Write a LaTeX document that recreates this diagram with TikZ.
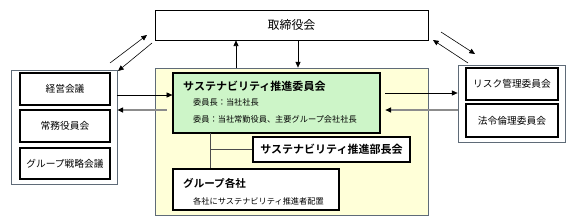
\documentclass[tikz,border=0pt]{standalone}
\usepackage{fontspec}
\setmainfont{Noto Sans CJK JP}[BoldFont={Noto Sans CJK JP Bold}]
\usetikzlibrary{arrows.meta,positioning,calc}
\definecolor{cgframe}{HTML}{5F6B78}
\definecolor{cgpale}{HTML}{FFFFD8}
\definecolor{cgmint}{HTML}{CDF5C8}
\definecolor{cggray}{HTML}{8C8C8C}
\newcommand{\fs}[1]{\fontsize{#1pt}{#1pt}\selectfont}
\tikzset{
  sz/.style 2 args={minimum width=#1*0.03cm, minimum height=#2*0.03cm},
  panel/.style={draw=cgframe, line width=0.7pt, inner sep=0pt},
  box/.style={draw=black, line width=1.1pt, fill=white, inner sep=0pt, font=\fs{8.3}},
  head/.style={box, font=\fs{9.4}\bfseries},
  lbl/.style={anchor=west, inner sep=0pt},
  flow/.style={-{Triangle[length=1.7mm, width=1.5mm]}, draw=black, line width=0.5pt},
  back/.style={-{Triangle[length=1.7mm, width=1.5mm, color=black]}, draw=cggray, line width=0.9pt},
  tree/.style={draw=black!70, line width=0.5pt},
}

\begin{document}
\begin{tikzpicture}[x=0.03cm, y=-0.03cm]
  \useasboundingbox (0,0) rectangle (573,222);

  \node[box, sz={273}{30}, line width=0.6pt, font=\fs{10.2}] (board) at (291.5,25) {取締役会};

  \node[panel, fill=cgpale, sz={273}{147}] (promo) at (291.5,141.5) {};
  \node[box, fill=cgmint, sz={207}{60}] (comm) at (276.5,103) {};
  \node[lbl, font=\fs{9.4}\bfseries] (commtitle) at (183,86) {サステナビリティ推進委員会};
  \node[lbl, font=\fs{7}] (commchair) at (193,102) {委員長：当社社長};
  \node[lbl, font=\fs{7}] (commmembers) at (193,119) {委員：当社常勤役員、主要グループ会社社長};

  \node[head, sz={157}{25}] (dept) at (331.5,149.5) {サステナビリティ推進部長会};
  \node[box, sz={166}{41}] (group) at (256,189.5) {};
  \node[lbl, font=\fs{9}\bfseries] (grouptitle) at (183,183) {グループ各社};
  \node[lbl, font=\fs{7}] (groupnote) at (193,201) {各社にサステナビリティ推進者配置};

  \node[panel, sz={106}{114}] (mgmt) at (64,127) {};
  \node[box, sz={90}{32}] (keiei) at (65,89) {経営会議};
  \node[box, sz={90}{32}] (jomu) at (65,126) {常務役員会};
  \node[box, sz={90}{31}] (senryaku) at (65,163.5) {グループ戦略会議};

  \node[panel, sz={107}{77}] (cmte) at (511.5,103.5) {};
  \node[box, sz={92}{32}] (risk) at (512,84) {リスク管理委員会};
  \node[box, sz={92}{33}] (ethics) at (512,120.5) {法令倫理委員会};

  % free ends of the slanted pairs
  \coordinate (lu0) at (110,63);  \coordinate (lu1) at (147,35);
  \coordinate (ld0) at (152,43);  \coordinate (ld1) at (118,71);
  \coordinate (ru0) at (441,32);  \coordinate (ru1) at (475,54);
  \coordinate (rd0) at (468,63);  \coordinate (rd1) at (433,40);
  \coordinate (trunk) at (210,133);

  \draw[flow] (lu0) -- (lu1);
  \draw[flow] (ld0) -- (ld1);
  \draw[flow] (ru0) -- (ru1);
  \draw[flow] (rd0) -- (rd1);

  \draw[flow] (promo.north -| 236,0) -- (board.south -| 236,0);
  \draw[flow] (board.south -| 298,0) -- (promo.north -| 298,0);

  \draw[flow] (mgmt.east |- 0,95) -- (comm.west |- 0,95);
  \draw[back] ([xshift=-5pt]comm.west |- 0,110) -- (mgmt.east |- 0,110);
  \draw[flow] ([xshift=4pt]comm.east |- 0,93) -- (cmte.west |- 0,93);
  \draw[back] (cmte.west |- 0,110) -- ([xshift=4pt]comm.east |- 0,110);

  \draw[tree] (trunk) -- (trunk |- group.north);
  \draw[tree] (trunk |- dept.west) -- (dept.west);
\end{tikzpicture}
\end{document}
